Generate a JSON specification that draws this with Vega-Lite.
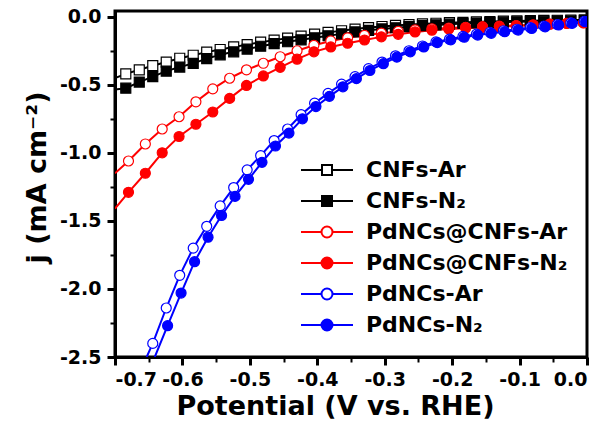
{
  "$schema": "https://vega.github.io/schema/vega-lite/v6.json",
  "width": 472,
  "height": 346,
  "autosize": {"type": "none"},
  "padding": {"left": 115, "top": 11, "right": 22, "bottom": 75},
  "background": "white",
  "config": {
    "view": {"stroke": "black", "strokeWidth": 3},
    "axis": {
      "domainColor": "black", "domainWidth": 3, "tickColor": "black", "tickWidth": 3, "tickSize": 8,
      "labelFont": "DejaVu Sans", "labelFontWeight": "bold", "labelFontSize": 19, "labelColor": "black",
      "titleFont": "DejaVu Sans", "titleFontWeight": "bold", "titleFontSize": 27, "titleColor": "black",
      "grid": false
    },
    "legend": {
      "labelFont": "DejaVu Sans", "labelFontWeight": "bold", "labelFontSize": 22, "labelColor": "black",
      "labelLimit": 400, "padding": 0, "rowPadding": 9, "labelOffset": 28, "symbolSize": 100, "symbolStrokeWidth": 2
    }
  },
  "data": {"values": [
    {"s":"CNFs-Ar","x":-0.700,"j":-0.45},{"s":"CNFs-Ar","x":-0.684,"j":-0.42},{"s":"CNFs-Ar","x":-0.664,"j":-0.39},{"s":"CNFs-Ar","x":-0.644,"j":-0.36},{"s":"CNFs-Ar","x":-0.624,"j":-0.333},{"s":"CNFs-Ar","x":-0.604,"j":-0.305},{"s":"CNFs-Ar","x":-0.584,"j":-0.283},{"s":"CNFs-Ar","x":-0.564,"j":-0.26},{"s":"CNFs-Ar","x":-0.544,"j":-0.241},{"s":"CNFs-Ar","x":-0.524,"j":-0.222},{"s":"CNFs-Ar","x":-0.504,"j":-0.205},{"s":"CNFs-Ar","x":-0.484,"j":-0.187},{"s":"CNFs-Ar","x":-0.464,"j":-0.172},{"s":"CNFs-Ar","x":-0.444,"j":-0.158},{"s":"CNFs-Ar","x":-0.424,"j":-0.142},{"s":"CNFs-Ar","x":-0.404,"j":-0.128},{"s":"CNFs-Ar","x":-0.384,"j":-0.115},{"s":"CNFs-Ar","x":-0.364,"j":-0.103},{"s":"CNFs-Ar","x":-0.344,"j":-0.091},{"s":"CNFs-Ar","x":-0.324,"j":-0.08},{"s":"CNFs-Ar","x":-0.304,"j":-0.072},{"s":"CNFs-Ar","x":-0.284,"j":-0.064},{"s":"CNFs-Ar","x":-0.264,"j":-0.058},{"s":"CNFs-Ar","x":-0.244,"j":-0.053},{"s":"CNFs-Ar","x":-0.224,"j":-0.048},{"s":"CNFs-Ar","x":-0.204,"j":-0.044},{"s":"CNFs-Ar","x":-0.184,"j":-0.041},{"s":"CNFs-Ar","x":-0.164,"j":-0.038},{"s":"CNFs-Ar","x":-0.144,"j":-0.035},{"s":"CNFs-Ar","x":-0.124,"j":-0.033},{"s":"CNFs-Ar","x":-0.104,"j":-0.031},{"s":"CNFs-Ar","x":-0.084,"j":-0.029},{"s":"CNFs-Ar","x":-0.064,"j":-0.027},{"s":"CNFs-Ar","x":-0.044,"j":-0.026},{"s":"CNFs-Ar","x":-0.024,"j":-0.024},{"s":"CNFs-Ar","x":-0.004,"j":-0.023},{"s":"CNFs-Ar","x":0.0,"j":-0.022},
    {"s":"CNFs-N₂","x":-0.700,"j":-0.535},{"s":"CNFs-N₂","x":-0.684,"j":-0.525},{"s":"CNFs-N₂","x":-0.664,"j":-0.48},{"s":"CNFs-N₂","x":-0.644,"j":-0.44},{"s":"CNFs-N₂","x":-0.624,"j":-0.40},{"s":"CNFs-N₂","x":-0.604,"j":-0.37},{"s":"CNFs-N₂","x":-0.584,"j":-0.343},{"s":"CNFs-N₂","x":-0.564,"j":-0.308},{"s":"CNFs-N₂","x":-0.544,"j":-0.28},{"s":"CNFs-N₂","x":-0.524,"j":-0.258},{"s":"CNFs-N₂","x":-0.504,"j":-0.238},{"s":"CNFs-N₂","x":-0.484,"j":-0.217},{"s":"CNFs-N₂","x":-0.464,"j":-0.198},{"s":"CNFs-N₂","x":-0.444,"j":-0.184},{"s":"CNFs-N₂","x":-0.424,"j":-0.17},{"s":"CNFs-N₂","x":-0.404,"j":-0.155},{"s":"CNFs-N₂","x":-0.384,"j":-0.14},{"s":"CNFs-N₂","x":-0.364,"j":-0.126},{"s":"CNFs-N₂","x":-0.344,"j":-0.112},{"s":"CNFs-N₂","x":-0.324,"j":-0.1},{"s":"CNFs-N₂","x":-0.304,"j":-0.09},{"s":"CNFs-N₂","x":-0.284,"j":-0.081},{"s":"CNFs-N₂","x":-0.264,"j":-0.073},{"s":"CNFs-N₂","x":-0.244,"j":-0.066},{"s":"CNFs-N₂","x":-0.224,"j":-0.06},{"s":"CNFs-N₂","x":-0.204,"j":-0.055},{"s":"CNFs-N₂","x":-0.184,"j":-0.05},{"s":"CNFs-N₂","x":-0.164,"j":-0.046},{"s":"CNFs-N₂","x":-0.144,"j":-0.043},{"s":"CNFs-N₂","x":-0.124,"j":-0.04},{"s":"CNFs-N₂","x":-0.104,"j":-0.037},{"s":"CNFs-N₂","x":-0.084,"j":-0.035},{"s":"CNFs-N₂","x":-0.064,"j":-0.033},{"s":"CNFs-N₂","x":-0.044,"j":-0.031},{"s":"CNFs-N₂","x":-0.024,"j":-0.03},{"s":"CNFs-N₂","x":-0.004,"j":-0.029},{"s":"CNFs-N₂","x":0.0,"j":-0.028},
    {"s":"PdNCs@CNFs-Ar","x":-0.700,"j":-1.15},{"s":"PdNCs@CNFs-Ar","x":-0.680,"j":-1.06},{"s":"PdNCs@CNFs-Ar","x":-0.655,"j":-0.935},{"s":"PdNCs@CNFs-Ar","x":-0.630,"j":-0.825},{"s":"PdNCs@CNFs-Ar","x":-0.605,"j":-0.735},{"s":"PdNCs@CNFs-Ar","x":-0.580,"j":-0.625},{"s":"PdNCs@CNFs-Ar","x":-0.555,"j":-0.53},{"s":"PdNCs@CNFs-Ar","x":-0.530,"j":-0.452},{"s":"PdNCs@CNFs-Ar","x":-0.505,"j":-0.39},{"s":"PdNCs@CNFs-Ar","x":-0.480,"j":-0.342},{"s":"PdNCs@CNFs-Ar","x":-0.455,"j":-0.294},{"s":"PdNCs@CNFs-Ar","x":-0.430,"j":-0.25},{"s":"PdNCs@CNFs-Ar","x":-0.405,"j":-0.21},{"s":"PdNCs@CNFs-Ar","x":-0.380,"j":-0.178},{"s":"PdNCs@CNFs-Ar","x":-0.355,"j":-0.155},{"s":"PdNCs@CNFs-Ar","x":-0.330,"j":-0.137},{"s":"PdNCs@CNFs-Ar","x":-0.305,"j":-0.121},{"s":"PdNCs@CNFs-Ar","x":-0.280,"j":-0.108},{"s":"PdNCs@CNFs-Ar","x":-0.255,"j":-0.097},{"s":"PdNCs@CNFs-Ar","x":-0.230,"j":-0.089},{"s":"PdNCs@CNFs-Ar","x":-0.205,"j":-0.083},{"s":"PdNCs@CNFs-Ar","x":-0.180,"j":-0.078},{"s":"PdNCs@CNFs-Ar","x":-0.155,"j":-0.073},{"s":"PdNCs@CNFs-Ar","x":-0.130,"j":-0.069},{"s":"PdNCs@CNFs-Ar","x":-0.105,"j":-0.065},{"s":"PdNCs@CNFs-Ar","x":-0.080,"j":-0.06},{"s":"PdNCs@CNFs-Ar","x":-0.055,"j":-0.055},{"s":"PdNCs@CNFs-Ar","x":-0.030,"j":-0.05},{"s":"PdNCs@CNFs-Ar","x":-0.005,"j":-0.046},{"s":"PdNCs@CNFs-Ar","x":0.0,"j":-0.045},
    {"s":"PdNCs@CNFs-N₂","x":-0.700,"j":-1.41},{"s":"PdNCs@CNFs-N₂","x":-0.680,"j":-1.29},{"s":"PdNCs@CNFs-N₂","x":-0.655,"j":-1.15},{"s":"PdNCs@CNFs-N₂","x":-0.630,"j":-1.00},{"s":"PdNCs@CNFs-N₂","x":-0.605,"j":-0.88},{"s":"PdNCs@CNFs-N₂","x":-0.580,"j":-0.79},{"s":"PdNCs@CNFs-N₂","x":-0.555,"j":-0.70},{"s":"PdNCs@CNFs-N₂","x":-0.530,"j":-0.60},{"s":"PdNCs@CNFs-N₂","x":-0.505,"j":-0.505},{"s":"PdNCs@CNFs-N₂","x":-0.480,"j":-0.435},{"s":"PdNCs@CNFs-N₂","x":-0.455,"j":-0.372},{"s":"PdNCs@CNFs-N₂","x":-0.430,"j":-0.312},{"s":"PdNCs@CNFs-N₂","x":-0.405,"j":-0.258},{"s":"PdNCs@CNFs-N₂","x":-0.380,"j":-0.222},{"s":"PdNCs@CNFs-N₂","x":-0.355,"j":-0.195},{"s":"PdNCs@CNFs-N₂","x":-0.330,"j":-0.171},{"s":"PdNCs@CNFs-N₂","x":-0.305,"j":-0.148},{"s":"PdNCs@CNFs-N₂","x":-0.280,"j":-0.129},{"s":"PdNCs@CNFs-N₂","x":-0.255,"j":-0.112},{"s":"PdNCs@CNFs-N₂","x":-0.230,"j":-0.099},{"s":"PdNCs@CNFs-N₂","x":-0.205,"j":-0.09},{"s":"PdNCs@CNFs-N₂","x":-0.180,"j":-0.084},{"s":"PdNCs@CNFs-N₂","x":-0.155,"j":-0.078},{"s":"PdNCs@CNFs-N₂","x":-0.130,"j":-0.073},{"s":"PdNCs@CNFs-N₂","x":-0.105,"j":-0.068},{"s":"PdNCs@CNFs-N₂","x":-0.080,"j":-0.061},{"s":"PdNCs@CNFs-N₂","x":-0.055,"j":-0.054},{"s":"PdNCs@CNFs-N₂","x":-0.030,"j":-0.049},{"s":"PdNCs@CNFs-N₂","x":-0.005,"j":-0.044},{"s":"PdNCs@CNFs-N₂","x":0.0,"j":-0.043},
    {"s":"PdNCs-Ar","x":-0.653,"j":-2.5},{"s":"PdNCs-Ar","x":-0.644,"j":-2.40},{"s":"PdNCs-Ar","x":-0.624,"j":-2.14},{"s":"PdNCs-Ar","x":-0.604,"j":-1.90},{"s":"PdNCs-Ar","x":-0.584,"j":-1.70},{"s":"PdNCs-Ar","x":-0.564,"j":-1.54},{"s":"PdNCs-Ar","x":-0.544,"j":-1.39},{"s":"PdNCs-Ar","x":-0.524,"j":-1.255},{"s":"PdNCs-Ar","x":-0.504,"j":-1.125},{"s":"PdNCs-Ar","x":-0.484,"j":-1.02},{"s":"PdNCs-Ar","x":-0.464,"j":-0.91},{"s":"PdNCs-Ar","x":-0.444,"j":-0.825},{"s":"PdNCs-Ar","x":-0.424,"j":-0.72},{"s":"PdNCs-Ar","x":-0.404,"j":-0.635},{"s":"PdNCs-Ar","x":-0.384,"j":-0.563},{"s":"PdNCs-Ar","x":-0.364,"j":-0.495},{"s":"PdNCs-Ar","x":-0.344,"j":-0.44},{"s":"PdNCs-Ar","x":-0.324,"j":-0.382},{"s":"PdNCs-Ar","x":-0.304,"j":-0.333},{"s":"PdNCs-Ar","x":-0.284,"j":-0.287},{"s":"PdNCs-Ar","x":-0.264,"j":-0.25},{"s":"PdNCs-Ar","x":-0.244,"j":-0.215},{"s":"PdNCs-Ar","x":-0.224,"j":-0.185},{"s":"PdNCs-Ar","x":-0.204,"j":-0.165},{"s":"PdNCs-Ar","x":-0.184,"j":-0.145},{"s":"PdNCs-Ar","x":-0.164,"j":-0.128},{"s":"PdNCs-Ar","x":-0.144,"j":-0.115},{"s":"PdNCs-Ar","x":-0.124,"j":-0.103},{"s":"PdNCs-Ar","x":-0.104,"j":-0.092},{"s":"PdNCs-Ar","x":-0.084,"j":-0.08},{"s":"PdNCs-Ar","x":-0.064,"j":-0.069},{"s":"PdNCs-Ar","x":-0.044,"j":-0.057},{"s":"PdNCs-Ar","x":-0.024,"j":-0.045},{"s":"PdNCs-Ar","x":-0.004,"j":-0.034},{"s":"PdNCs-Ar","x":0.0,"j":-0.032},
    {"s":"PdNCs-N₂","x":-0.641,"j":-2.5},{"s":"PdNCs-N₂","x":-0.622,"j":-2.27},{"s":"PdNCs-N₂","x":-0.602,"j":-2.03},{"s":"PdNCs-N₂","x":-0.582,"j":-1.80},{"s":"PdNCs-N₂","x":-0.562,"j":-1.62},{"s":"PdNCs-N₂","x":-0.542,"j":-1.46},{"s":"PdNCs-N₂","x":-0.522,"j":-1.32},{"s":"PdNCs-N₂","x":-0.502,"j":-1.195},{"s":"PdNCs-N₂","x":-0.482,"j":-1.07},{"s":"PdNCs-N₂","x":-0.462,"j":-0.95},{"s":"PdNCs-N₂","x":-0.442,"j":-0.855},{"s":"PdNCs-N₂","x":-0.422,"j":-0.75},{"s":"PdNCs-N₂","x":-0.402,"j":-0.66},{"s":"PdNCs-N₂","x":-0.382,"j":-0.585},{"s":"PdNCs-N₂","x":-0.362,"j":-0.515},{"s":"PdNCs-N₂","x":-0.342,"j":-0.455},{"s":"PdNCs-N₂","x":-0.322,"j":-0.395},{"s":"PdNCs-N₂","x":-0.302,"j":-0.345},{"s":"PdNCs-N₂","x":-0.282,"j":-0.297},{"s":"PdNCs-N₂","x":-0.262,"j":-0.258},{"s":"PdNCs-N₂","x":-0.242,"j":-0.222},{"s":"PdNCs-N₂","x":-0.222,"j":-0.19},{"s":"PdNCs-N₂","x":-0.202,"j":-0.17},{"s":"PdNCs-N₂","x":-0.182,"j":-0.151},{"s":"PdNCs-N₂","x":-0.162,"j":-0.135},{"s":"PdNCs-N₂","x":-0.142,"j":-0.122},{"s":"PdNCs-N₂","x":-0.122,"j":-0.11},{"s":"PdNCs-N₂","x":-0.102,"j":-0.098},{"s":"PdNCs-N₂","x":-0.082,"j":-0.086},{"s":"PdNCs-N₂","x":-0.062,"j":-0.074},{"s":"PdNCs-N₂","x":-0.042,"j":-0.061},{"s":"PdNCs-N₂","x":-0.022,"j":-0.049},{"s":"PdNCs-N₂","x":-0.002,"j":-0.037},{"s":"PdNCs-N₂","x":0.0,"j":-0.036}
  ]},
  "layer": [
    {
      "mark": {"type": "line", "strokeWidth": 2, "clip": true},
      "encoding": {
        "x": {"field": "x", "type": "quantitative", "scale": {"domain": [-0.7, 0], "nice": false, "zero": false},
          "axis": {"orient": "bottom", "values": [-0.7, -0.6, -0.5, -0.4, -0.3, -0.2, -0.1, 0],
            "labelExpr": "replace(format(datum.value, '.1f'), '\u2212', '-')", "labelPadding": 5,
            "title": "Potential (V vs. RHE)", "titlePadding": 4, "titleX": 220}},
        "y": {"field": "j", "type": "quantitative", "scale": {"domain": [-2.5, 0.042], "nice": false, "zero": false},
          "axis": {"orient": "left", "values": [-2.5, -2, -1.5, -1, -0.5, 0],
            "labelExpr": "replace(format(datum.value, '.1f'), '\u2212', '-')", "labelPadding": 6,
            "title": "j (mA cm⁻²)", "titlePadding": 8, "titleY": 166}},
        "color": {"field": "s", "type": "nominal", "sort": null, "legend": null,
          "scale": {"domain": ["CNFs-Ar", "CNFs-N₂", "PdNCs@CNFs-Ar", "PdNCs@CNFs-N₂", "PdNCs-Ar", "PdNCs-N₂"],
            "range": ["#000000", "#000000", "#ff0000", "#ff0000", "#0000ff", "#0000ff"]}}
      }
    },
    {
      "transform": [{"filter": "datum.x > -0.695 && datum.x < -0.001 && datum.j > -2.49"}],
      "mark": {"type": "point", "size": 100, "strokeWidth": 1.2, "opacity": 1, "filled": true, "clip": true},
      "encoding": {
        "x": {"field": "x", "type": "quantitative",
          "axis": {"orient": "bottom", "values": [-0.65, -0.55, -0.45, -0.35, -0.25, -0.15, -0.05], "labels": false, "domain": false, "tickSize": 5, "tickWidth": 2, "title": null}},
        "y": {"field": "j", "type": "quantitative",
          "axis": {"orient": "left", "values": [-2.25, -1.75, -1.25, -0.75, -0.25], "labels": false, "domain": false, "tickSize": 5, "tickWidth": 2, "title": null}},
        "shape": {"field": "s", "type": "nominal", "sort": null, "legend": null,
          "scale": {"domain": ["CNFs-Ar", "CNFs-N₂", "PdNCs@CNFs-Ar", "PdNCs@CNFs-N₂", "PdNCs-Ar", "PdNCs-N₂"],
            "range": ["square", "square", "circle", "circle", "circle", "circle"]}},
        "fill": {"field": "s", "type": "nominal", "sort": null, "legend": null,
          "scale": {"domain": ["CNFs-Ar", "CNFs-N₂", "PdNCs@CNFs-Ar", "PdNCs@CNFs-N₂", "PdNCs-Ar", "PdNCs-N₂"],
            "range": ["#ffffff", "#000000", "#ffffff", "#ff0000", "#ffffff", "#0000ff"]}},
        "stroke": {"field": "s", "type": "nominal", "sort": null, "legend": null,
          "scale": {"domain": ["CNFs-Ar", "CNFs-N₂", "PdNCs@CNFs-Ar", "PdNCs@CNFs-N₂", "PdNCs-Ar", "PdNCs-N₂"],
            "range": ["#000000", "#000000", "#ff0000", "#ff0000", "#0000ff", "#0000ff"]}}
      }
    },
    {
      "transform": [{"filter": "datum.x > 1"}],
      "mark": {"type": "point", "size": 100, "strokeWidth": 2, "opacity": 1, "filled": true},
      "encoding": {
        "x": {"field": "x", "type": "quantitative", "axis": null},
        "y": {"field": "j", "type": "quantitative", "axis": null},
        "shape": {"field": "s", "type": "nominal", "sort": null,
          "scale": {"domain": ["CNFs-Ar", "CNFs-N₂", "PdNCs@CNFs-Ar", "PdNCs@CNFs-N₂", "PdNCs-Ar", "PdNCs-N₂"],
            "range": [
              "M-5.2,0L-1,0M1,0L5.2,0M-1,-1L1,-1L1,1L-1,1Z",
              "M-5.2,0L-1,0M1,0L5.2,0M-1,-1L1,-1L1,1L-1,1Z",
              "M-5.2,0L-1.1,0M1.1,0L5.2,0M-1.1,0A1.1,1.1,0,1,1,1.1,0A1.1,1.1,0,1,1,-1.1,0Z",
              "M-5.2,0L-1.1,0M1.1,0L5.2,0M-1.1,0A1.1,1.1,0,1,1,1.1,0A1.1,1.1,0,1,1,-1.1,0Z",
              "M-5.2,0L-1.1,0M1.1,0L5.2,0M-1.1,0A1.1,1.1,0,1,1,1.1,0A1.1,1.1,0,1,1,-1.1,0Z",
              "M-5.2,0L-1.1,0M1.1,0L5.2,0M-1.1,0A1.1,1.1,0,1,1,1.1,0A1.1,1.1,0,1,1,-1.1,0Z"]},
          "legend": {"title": null, "orient": "none", "legendX": 201, "legendY": 148}},
        "fill": {"field": "s", "type": "nominal", "sort": null,
          "scale": {"domain": ["CNFs-Ar", "CNFs-N₂", "PdNCs@CNFs-Ar", "PdNCs@CNFs-N₂", "PdNCs-Ar", "PdNCs-N₂"],
            "range": ["#ffffff", "#000000", "#ffffff", "#ff0000", "#ffffff", "#0000ff"]},
          "legend": {"title": null, "orient": "none", "legendX": 201, "legendY": 148}},
        "stroke": {"field": "s", "type": "nominal", "sort": null,
          "scale": {"domain": ["CNFs-Ar", "CNFs-N₂", "PdNCs@CNFs-Ar", "PdNCs@CNFs-N₂", "PdNCs-Ar", "PdNCs-N₂"],
            "range": ["#000000", "#000000", "#ff0000", "#ff0000", "#0000ff", "#0000ff"]},
          "legend": {"title": null, "orient": "none", "legendX": 201, "legendY": 148}}
      }
    }
  ],
  "resolve": {"axis": {"x": "independent", "y": "independent"}, "scale": {"shape": "independent", "fill": "independent", "stroke": "independent"}}
}
